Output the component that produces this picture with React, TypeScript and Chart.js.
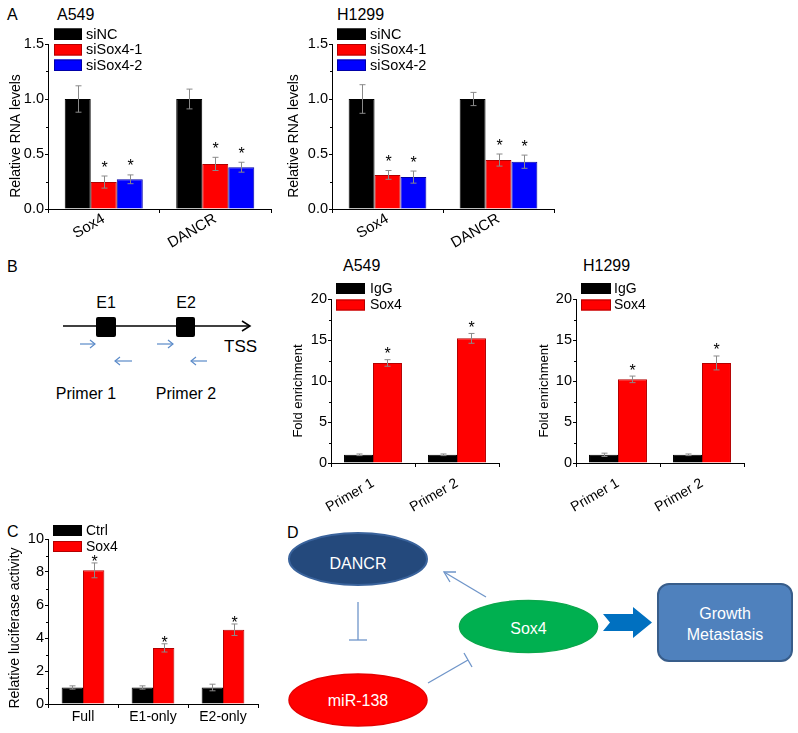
import React, { useEffect, useRef } from "react";
import { Chart, registerables } from "chart.js";
Chart.register(...registerables);

const FONT = '"Liberation Sans", Arial, Helvetica, sans-serif';

// ---------- Panel A data ----------
const genesA = ["Sox4", "DANCR"];
const seriesA = ["siNC", "siSox4-1", "siSox4-2"];
const a549Values = [[1.0, 1.0], [0.245, 0.41], [0.27, 0.38]];
const a549Errors = [[0.12, 0.09], [0.055, 0.06], [0.04, 0.045]];
const h1299Values = [[1.0, 1.0], [0.31, 0.445], [0.29, 0.43]];
const h1299Errors = [[0.13, 0.06], [0.04, 0.055], [0.055, 0.06]];
const sigA = [false, true, true];

// ---------- Panel B data ----------
const primers = ["Primer 1", "Primer 2"];
const seriesB = ["IgG", "Sox4"];
const a549ChipValues = [[1.0, 1.0], [12.2, 15.2]];
const a549ChipErrors = [[0.1, 0.1], [0.4, 0.6]];
const h1299ChipValues = [[1.0, 1.0], [10.2, 12.2]];
const h1299ChipErrors = [[0.2, 0.1], [0.4, 0.85]];
const sigB = [false, true];

// ---------- Panel C data ----------
const constructs = ["Full", "E1-only", "E2-only"];
const seriesC = ["Ctrl", "Sox4"];
const lucValues = [[1.0, 1.0, 1.0], [8.1, 3.4, 4.5]];
const lucErrors = [[0.1, 0.1, 0.2], [0.45, 0.25, 0.35]];
const sigC = [false, true];

const FILL3 = ["#000000", "#ff0000", "#0000ff"];
const EDGE3 = ["#000000", "#b40000", "#0000a8"];

type Cfg = {
  rect: { x: number; y: number; w: number; h: number };
  area: { l: number; t: number; r: number; b: number };
  labels: string[];
  names: string[];
  values: number[][];
  errors: number[][];
  sig: boolean[];
  yMax: number;
  yStep: number;
  decimals: number;
  yTitle: string;
  yTitleX: number;
  yTitleY: number;
  yTitleSize: number;
  tickSize: number;
  xRot: number;
  xSize: number;
  xPad: number;
  barFrac: number;
  legend: { x: number; tops: number[]; w: number; h: number; textX: number; size: number };
  starGap: number;
};

function BarChart({ cfg }: { cfg: Cfg }) {
  const ref = useRef<HTMLCanvasElement>(null);
  useEffect(() => {
    const c = cfg;
    const ox = c.rect.x;
    const oy = c.rect.y;
    const overlay = {
      id: "overlay",
      afterDatasetsDraw(chart: any) {
        const ctx = chart.ctx;
        const ys = chart.scales.y;
        ctx.save();
        c.values.forEach((ser, i) => {
          const meta = chart.getDatasetMeta(i);
          ser.forEach((v, j) => {
            const el = meta.data[j];
            const e = c.errors[i][j];
            const x = Math.round(el.x) + 0.5;
            const yt = ys.getPixelForValue(v + e);
            const yb = ys.getPixelForValue(v - e);
            ctx.strokeStyle = "#8a8a8a";
            ctx.lineWidth = 1;
            ctx.beginPath();
            ctx.moveTo(x, yt);
            ctx.lineTo(x, yb);
            ctx.moveTo(x - 3, yt);
            ctx.lineTo(x + 3, yt);
            ctx.moveTo(x - 3, yb);
            ctx.lineTo(x + 3, yb);
            ctx.stroke();
            if (c.sig[i]) {
              ctx.fillStyle = "#000";
              ctx.font = `16px ${FONT}`;
              ctx.textAlign = "center";
              ctx.textBaseline = "alphabetic";
              ctx.fillText("*", x, yt - c.starGap);
            }
          });
        });
        ctx.restore();
      },
      afterDraw(chart: any) {
        const ctx = chart.ctx;
        const ys = chart.scales.y;
        const left = chart.chartArea.left;
        ctx.save();
        // minor ticks
        ctx.strokeStyle = "#000";
        ctx.lineWidth = 1;
        for (let v = c.yStep / 2; v < c.yMax; v += c.yStep) {
          const py = Math.round(ys.getPixelForValue(v)) + 0.5;
          ctx.beginPath();
          ctx.moveTo(left - 2, py);
          ctx.lineTo(left, py);
          ctx.stroke();
        }
        // legend
        const L = c.legend;
        c.names.forEach((n, i) => {
          const top = L.tops[i] - oy;
          ctx.fillStyle = FILL3[i];
          ctx.fillRect(L.x - ox, top, L.w, L.h);
          ctx.strokeStyle = EDGE3[i];
          ctx.strokeRect(L.x - ox + 0.5, top + 0.5, L.w - 1, L.h - 1);
          ctx.fillStyle = "#000";
          ctx.font = `${L.size}px ${FONT}`;
          ctx.textAlign = "left";
          ctx.textBaseline = "middle";
          ctx.fillText(n, L.textX - ox, top + L.h / 2 + 0.5);
        });
        // y title
        ctx.save();
        ctx.translate(c.yTitleX - ox, c.yTitleY - oy);
        ctx.rotate(-Math.PI / 2);
        ctx.font = `${c.yTitleSize}px ${FONT}`;
        ctx.fillStyle = "#000";
        ctx.textAlign = "center";
        ctx.textBaseline = "middle";
        ctx.fillText(c.yTitle, 0, 0);
        ctx.restore();
        ctx.restore();
      },
    };
    const chart = new Chart(ref.current as HTMLCanvasElement, {
      type: "bar",
      data: {
        labels: c.labels,
        datasets: c.names.map((n, i) => ({
          label: n,
          data: c.values[i],
          backgroundColor: FILL3[i],
          borderColor: EDGE3[i],
          borderWidth: 1,
          categoryPercentage: c.barFrac,
          barPercentage: 1,
        })),
      },
      options: {
        responsive: false,
        animation: false,
        devicePixelRatio: 1,
        layout: {
          padding: {
            left: 0,
            top: c.area.t - c.rect.y,
            right: c.rect.x + c.rect.w - c.area.r,
            bottom: 0,
          },
        },
        plugins: {
          legend: { display: false },
          tooltip: { enabled: false },
          title: { display: false },
        },
        scales: {
          x: {
            type: "category",
            offset: true,
            grid: {
              display: true,
              drawOnChartArea: false,
              drawTicks: true,
              tickLength: 4,
              color: "#000",
              offset: true,
            },
            border: { display: true, color: "#000", width: 1 },
            ticks: {
              color: "#000",
              font: { family: FONT, size: c.xSize },
              maxRotation: c.xRot,
              minRotation: c.xRot,
              padding: c.xPad,
              autoSkip: false,
            },
            afterFit: (s: any) => {
              s.height = c.rect.y + c.rect.h - c.area.b;
              s.paddingLeft = 0;
              s.paddingRight = 0;
            },
          },
          y: {
            min: 0,
            max: c.yMax,
            ticks: {
              stepSize: c.yStep,
              color: "#000",
              padding: 1,
              font: { family: FONT, size: c.tickSize },
              callback: (v: any) => Number(v).toFixed(c.decimals),
            },
            grid: {
              display: true,
              drawOnChartArea: false,
              drawTicks: true,
              tickLength: 3,
              color: "#000",
            },
            border: { display: true, color: "#000", width: 1 },
            afterFit: (s: any) => {
              s.width = c.area.l - c.rect.x;
              s.paddingTop = 0;
              s.paddingBottom = 0;
            },
          },
        },
      } as any,
      plugins: [overlay],
    });
    return () => chart.destroy();
  }, [cfg]);
  return (
    <canvas
      ref={ref}
      width={cfg.rect.w}
      height={cfg.rect.h}
      style={{
        position: "absolute",
        left: cfg.rect.x,
        top: cfg.rect.y,
        width: cfg.rect.w,
        height: cfg.rect.h,
      }}
    />
  );
}

const cfgA549: Cfg = {
  rect: { x: 0, y: 20, w: 285, h: 240 },
  area: { l: 48, t: 44, r: 271, b: 209 },
  labels: genesA,
  names: seriesA,
  values: a549Values,
  errors: a549Errors,
  sig: sigA,
  yMax: 1.5,
  yStep: 0.5,
  decimals: 1,
  yTitle: "Relative RNA levels",
  yTitleX: 16,
  yTitleY: 136,
  yTitleSize: 14,
  tickSize: 14.5,
  xRot: 30,
  xSize: 15,
  xPad: -3,
  barFrac: 0.7,
  legend: { x: 54, tops: [28.5, 44, 59.5], w: 28, h: 11.5, textX: 86, size: 14.5 },
  starGap: 3.5,
};

const cfgH1299: Cfg = {
  ...cfgA549,
  rect: { x: 278, y: 20, w: 290, h: 240 },
  area: { l: 332, t: 44, r: 554, b: 209 },
  values: h1299Values,
  errors: h1299Errors,
  yTitleX: 294,
  legend: { x: 337, tops: [28.5, 44, 59.5], w: 29, h: 11.5, textX: 370, size: 14.5 },
};

const cfgChipA549: Cfg = {
  rect: { x: 280, y: 275, w: 225, h: 255 },
  area: { l: 331, t: 299, r: 499, b: 463 },
  labels: primers,
  names: seriesB,
  values: a549ChipValues,
  errors: a549ChipErrors,
  sig: sigB,
  yMax: 20,
  yStep: 5,
  decimals: 0,
  yTitle: "Fold enrichment",
  yTitleX: 298,
  yTitleY: 391,
  yTitleSize: 13,
  tickSize: 14.5,
  xRot: 30,
  xSize: 14,
  xPad: 8,
  barFrac: 0.69,
  legend: { x: 336, tops: [283, 299.5], w: 29, h: 11, textX: 370, size: 14 },
  starGap: 0.5,
};

const cfgChipH1299: Cfg = {
  ...cfgChipA549,
  rect: { x: 520, y: 275, w: 235, h: 255 },
  area: { l: 576, t: 299, r: 744, b: 463 },
  values: h1299ChipValues,
  errors: h1299ChipErrors,
  yTitleX: 544,
  legend: { x: 581, tops: [283, 299.5], w: 30, h: 11, textX: 614, size: 14 },
};

const cfgLuc: Cfg = {
  rect: { x: 0, y: 518, w: 270, h: 215 },
  area: { l: 48, t: 539, r: 258, b: 704 },
  labels: constructs,
  names: seriesC,
  values: lucValues,
  errors: lucErrors,
  sig: sigC,
  yMax: 10,
  yStep: 2,
  decimals: 0,
  yTitle: "Relative luciferase activity",
  yTitleX: 15,
  yTitleY: 628,
  yTitleSize: 14,
  tickSize: 14.5,
  xRot: 0,
  xSize: 14,
  xPad: 1,
  barFrac: 0.61,
  legend: { x: 53, tops: [525, 541], w: 29, h: 11, textX: 86, size: 14 },
  starGap: -4,
};

function Diagrams() {
  const t = { fontFamily: FONT, fill: "#000" } as any;
  const blue = "#5b8bc9";
  const thin = "#6f95c9";
  return (
    <svg
      width={798}
      height={733}
      style={{ position: "absolute", left: 0, top: 0, pointerEvents: "none" }}
    >
      {/* panel letters and titles */}
      <text x={7} y={14} fontSize={16} dominantBaseline="central" {...t}>A</text>
      <text x={57} y={14} fontSize={16} dominantBaseline="central" {...t}>A549</text>
      <text x={337} y={14} fontSize={16} dominantBaseline="central" {...t}>H1299</text>
      <text x={7} y={266} fontSize={16} dominantBaseline="central" {...t}>B</text>
      <text x={343} y={265} fontSize={16} dominantBaseline="central" {...t}>A549</text>
      <text x={583} y={265} fontSize={16} dominantBaseline="central" {...t}>H1299</text>
      <text x={7} y={531} fontSize={16} dominantBaseline="central" {...t}>C</text>
      <text x={287} y={532} fontSize={16} dominantBaseline="central" {...t}>D</text>

      {/* Panel B schematic */}
      <line x1={63} y1={326} x2={250} y2={326} stroke="#000" strokeWidth={1.5} />
      <polyline points="242,321 250,326 242,331" fill="none" stroke="#000" strokeWidth={1.5} />
      <rect x={96} y={317} width={20} height={20} rx={2} fill="#000" />
      <rect x={176} y={317} width={19} height={20} rx={2} fill="#000" />
      <text x={106} y={302} fontSize={16} textAnchor="middle" dominantBaseline="central" {...t}>E1</text>
      <text x={186} y={302} fontSize={16} textAnchor="middle" dominantBaseline="central" {...t}>E2</text>
      <text x={224} y={346} fontSize={17} dominantBaseline="central" {...t}>TSS</text>
      <g stroke={blue} strokeWidth={1.2} fill="none">
        <line x1={80} y1={344} x2={95} y2={344} />
        <polyline points="90,340 95,344 90,348" />
        <line x1={132} y1={361} x2={115} y2={361} />
        <polyline points="120,357 115,361 120,365" />
        <line x1={157} y1={344} x2={173} y2={344} />
        <polyline points="168,340 173,344 168,348" />
        <line x1={207} y1={361} x2={191} y2={361} />
        <polyline points="196,357 191,361 196,365" />
      </g>
      <text x={86} y={393} fontSize={16} textAnchor="middle" dominantBaseline="central" {...t}>Primer 1</text>
      <text x={186} y={393} fontSize={16} textAnchor="middle" dominantBaseline="central" {...t}>Primer 2</text>

      {/* Panel D schematic */}
      <ellipse cx={358} cy={559} rx={69} ry={26} fill="#24497c" stroke="#3a639c" strokeWidth={2} />
      <text x={358} y={563} fontSize={16} textAnchor="middle" dominantBaseline="central" fontFamily={FONT} fill="#fff">DANCR</text>
      <ellipse cx={528.5} cy={626.5} rx={69} ry={26} fill="#00b050" stroke="#0aa84c" strokeWidth={1.5} />
      <text x={528.5} y={628} fontSize={16} textAnchor="middle" dominantBaseline="central" fontFamily={FONT} fill="#fff">Sox4</text>
      <ellipse cx={358} cy={700} rx={69} ry={26} fill="#ff0000" stroke="#e60000" strokeWidth={1.5} />
      <text x={358} y={700} fontSize={16} textAnchor="middle" dominantBaseline="central" fontFamily={FONT} fill="#fff">miR-138</text>
      <rect x={658} y={584} width={134} height={77} rx={11} fill="#4f81bd" stroke="#385d8a" strokeWidth={2} />
      <text x={725} y={613} fontSize={16} textAnchor="middle" dominantBaseline="central" fontFamily={FONT} fill="#fff">Growth</text>
      <text x={725} y={634} fontSize={16} textAnchor="middle" dominantBaseline="central" fontFamily={FONT} fill="#fff">Metastasis</text>
      <polygon points="603,614 633,614 633,607 652,622.5 633,638 633,631 603,631 610,622.5" fill="#0070c0" />
      <g stroke={thin} strokeWidth={1.3} fill="none">
        <line x1={486} y1={597} x2={444} y2={572} />
        <polyline points="456,572 444,572 450,582" />
        <line x1={358} y1={602} x2={358} y2={640} />
        <line x1={349} y1={640} x2={367} y2={640} />
        <line x1={428} y1={683} x2={468} y2={660} />
        <line x1={464} y1={653} x2={472} y2={667} />
      </g>
    </svg>
  );
}

export default function App() {
  return (
    <div
      style={{
        position: "absolute",
        left: 0,
        top: 0,
        width: 798,
        height: 733,
        background: "#fff",
        overflow: "hidden",
      }}
    >
      <Diagrams />
      <BarChart cfg={cfgA549} />
      <BarChart cfg={cfgH1299} />
      <BarChart cfg={cfgChipA549} />
      <BarChart cfg={cfgChipH1299} />
      <BarChart cfg={cfgLuc} />
    </div>
  );
}
